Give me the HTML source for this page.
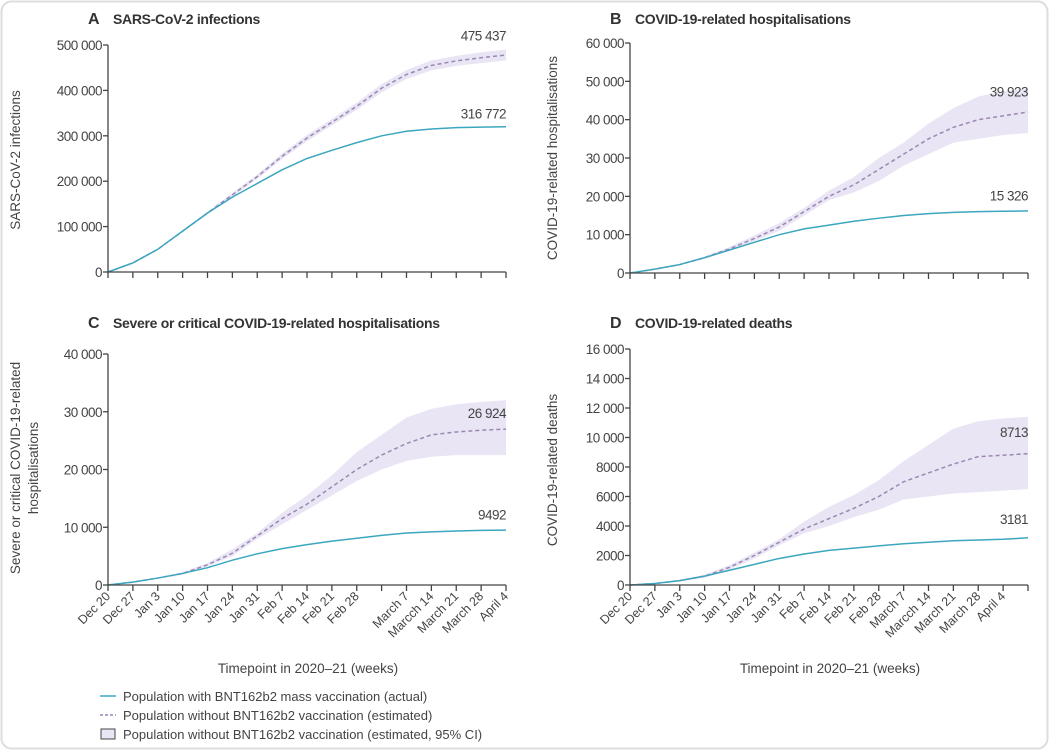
<!DOCTYPE html>
<html><head><meta charset="utf-8"><style>
html,body{margin:0;padding:0;background:#fff;}
svg{display:block;font-family:"Liberation Sans",sans-serif;}
</style></head><body>
<svg id="s" width="1050" height="752" xmlns="http://www.w3.org/2000/svg">
<rect x="1.5" y="1.5" width="1046" height="747" rx="10" fill="#fff" stroke="#ddd" stroke-width="2"/>
</svg>
<script>
var S=document.getElementById('s'),NS='http://www.w3.org/2000/svg';
function el(t,a,txt){var e=document.createElementNS(NS,t);for(var k in a)e.setAttribute(k,a[k]);if(txt!=null)e.textContent=txt;S.appendChild(e);return e;}
var labels=["Dec 20","Dec 27","Jan 3","Jan 10","Jan 17","Jan 24","Jan 31","Feb 7","Feb 14","Feb 21","Feb 28","March 7","Marcch 14","March 21","March 28","April 4"];
function panel(p){
 var x0=p.x0,x1=p.x0+398,dx=398/16;
 function X(i){return x0+i*dx;}
 function Y(v){return p.y0-v/p.max*(p.y0-p.ytop);}
 el('text',{x:p.x0-20,y:p.ty,'font-size':16,'font-weight':'bold',fill:'#333'},p.letter);
 el('text',{x:p.x0+5,y:p.ty,'font-size':14,'font-weight':'bold',fill:'#333','letter-spacing':'-0.3'},p.title);
 var d='';for(var i=0;i<=16;i++)d+=(i?'L':'M')+X(i)+','+Y(p.up[i]);
 for(var i=16;i>=0;i--)d+='L'+X(i)+','+Y(p.lo[i]);
 el('path',{d:d+'Z',fill:'#e9e5f4',stroke:'none'});
 var a='',c='';for(var i=0;i<=16;i++){a+=(i?'L':'M')+X(i)+','+Y(p.act[i]);c+=(i?'L':'M')+X(i)+','+Y(p.cf[i]);}
 el('path',{d:c,fill:'none',stroke:'#9b87b3','stroke-width':1.5,'stroke-dasharray':'4,3'});
 el('path',{d:a,fill:'none',stroke:'#3ba7bf','stroke-width':1.5});
 el('line',{x1:x0,y1:p.ytop,x2:x0,y2:p.y0,stroke:'#444','stroke-width':1.3});
 el('line',{x1:x0,y1:p.y0,x2:x1,y2:p.y0,stroke:'#444','stroke-width':1.3});
 for(var i=0;i<=16;i++)el('line',{x1:X(i),y1:p.y0,x2:X(i),y2:p.y0+6,stroke:'#444','stroke-width':1.3});
 p.yt.forEach(function(t){var y=Y(t[0]);el('line',{x1:x0-5,y1:y,x2:x0,y2:y,stroke:'#444','stroke-width':1.3});
  el('text',{x:x0-6,y:y+5,'font-size':13.5,fill:'#444','text-anchor':'end','letter-spacing':'-0.5'},t[1]);});
 if(p.xl){p.xpos.forEach(function(ti,k){var x=X(ti)+3,y=p.y0+12;
  el('text',{x:x,y:y,'font-size':12.5,fill:'#444','text-anchor':'end',transform:'rotate(-45 '+x+' '+y+')'},labels[k]);});
  el('text',{x:x0+200,y:p.y0+88,'font-size':13.5,fill:'#444','text-anchor':'middle'},'Timepoint in 2020–21 (weeks)');}
 p.yl.forEach(function(t,k){var x=p.ylx+k*18,y=p.yly;
  el('text',{x:x,y:y,'font-size':13.5,fill:'#444','text-anchor':'middle',transform:'rotate(-90 '+x+' '+y+')'},t);});
 el('text',{x:x1,y:Y(p.cfLab)-8,'font-size':13.5,fill:'#444','text-anchor':'end','letter-spacing':'-0.5'},p.cfTxt);
 el('text',{x:x1,y:Y(p.actLab)-8,'font-size':13.5,fill:'#444','text-anchor':'end','letter-spacing':'-0.5'},p.actTxt);
}
function band(cf,sp){return [cf.map(function(v,i){return v+sp[i]}),cf.map(function(v,i){return v-sp[i]})];}
var cfA=[0,20,50,90,130,170,210,255,295,330,365,405,435,455,465,472,478];
var spA=[0,0,1,2,3,4,5,6,7,7,8,9,10,11,11,12,12];
var bA=band(cfA,spA);
panel({x0:108,y0:272,ytop:45,max:500,letter:'A',title:'SARS-CoV-2 infections',ty:24,
 act:[0,20,50,90,130,165,195,225,250,268,285,300,310,315,318,319,320],cf:cfA,up:bA[0],lo:bA[1],
 yt:[[0,'0'],[100,'100 000'],[200,'200 000'],[300,'300 000'],[400,'400 000'],[500,'500 000']],
 yl:['SARS-CoV-2 infections'],ylx:20,yly:160,cfLab:492,cfTxt:'475 437',actLab:320,actTxt:'316 772'});
panel({x0:630,y0:273,ytop:43,max:60,letter:'B',title:'COVID-19-related hospitalisations',ty:24,
 act:[0,1,2.2,4,6,8,10,11.5,12.5,13.5,14.3,15,15.5,15.8,16,16.1,16.2],
 cf:[0,1,2.2,4,6.3,9,12,16,20,23,27,31,35,38,40,41,42],
 up:[0,1.1,2.4,4.3,6.8,9.8,13,17,21.5,25,30,34,39,43,46,47.5,48],
 lo:[0,0.9,2,3.7,5.8,8.3,11,15,19,21,24,28,31,34,35,36,36.5],
 yt:[[0,'0'],[10,'10 000'],[20,'20 000'],[30,'30 000'],[40,'40 000'],[50,'50 000'],[60,'60 000']],
 yl:['COVID-19-related hospitalisations'],ylx:557,yly:158,cfLab:44,cfTxt:'39 923',actLab:16.8,actTxt:'15 326'});
panel({x0:108,y0:585,ytop:354,max:40,letter:'C',title:'Severe or critical COVID-19-related hospitalisations',ty:328,
 act:[0,0.5,1.2,2,3,4.3,5.4,6.3,7,7.6,8.1,8.6,9,9.2,9.35,9.45,9.5],
 cf:[0,0.5,1.2,2,3.5,5.5,8.5,11.5,14,17,20,22.5,24.5,26,26.5,26.8,27],
 up:[0,0.55,1.3,2.2,3.8,6.2,9,12.5,15.5,19,23,26,29,30.5,31.3,31.7,32],
 lo:[0,0.45,1.1,1.8,3.2,5,8,10.5,13,15.5,18,20,21.5,22.2,22.5,22.5,22.5],
 yt:[[0,'0'],[10,'10 000'],[20,'20 000'],[30,'30 000'],[40,'40 000']],
 yl:['Severe or critical COVID-19-related','hospitalisations'],ylx:20,yly:468,cfLab:27.5,cfTxt:'26 924',actLab:10,actTxt:'9492',
 xl:1,xpos:[0,1,2,3,4,5,6,7,8,9,10,12,13,14,15,16]});
panel({x0:630,y0:585,ytop:349,max:16,letter:'D',title:'COVID-19-related deaths',ty:328,
 act:[0,0.1,0.3,0.6,1.0,1.4,1.8,2.1,2.35,2.5,2.65,2.8,2.9,3.0,3.05,3.1,3.2],
 cf:[0,0.1,0.3,0.6,1.2,2.0,2.9,3.8,4.5,5.2,6.0,7.0,7.6,8.2,8.7,8.8,8.9],
 up:[0,0.12,0.35,0.7,1.35,2.2,3.1,4.3,5.3,6.1,7.1,8.4,9.5,10.6,11.1,11.3,11.4],
 lo:[0,0.08,0.25,0.5,1.05,1.8,2.7,3.5,4.0,4.6,5.1,5.8,6.0,6.2,6.3,6.4,6.5],
 yt:[[0,'0'],[2,'2000'],[4,'4000'],[6,'6000'],[8,'8000'],[10,'10 000'],[12,'12 000'],[14,'14 000'],[16,'16 000']],
 yl:['COVID-19-related deaths'],ylx:557,yly:470,cfLab:9.5,cfTxt:'8713',actLab:3.6,actTxt:'3181',
 xl:1,xpos:[0,1,2,3,4,5,6,7,8,9,10,11,12,13,14,15]});
el('line',{x1:100,y1:696,x2:116,y2:696,stroke:'#3ba7bf','stroke-width':1.5});
el('text',{x:123,y:701,'font-size':13,fill:'#444'},'Population with BNT162b2 mass vaccination (actual)');
el('line',{x1:100,y1:715,x2:116,y2:715,stroke:'#9b87b3','stroke-width':1.5,'stroke-dasharray':'3,2'});
el('text',{x:123,y:720,'font-size':13,fill:'#444'},'Population without BNT162b2 vaccination (estimated)');
el('rect',{x:101,y:729,width:14,height:10,fill:'#e9e5f4',stroke:'#444','stroke-width':1});
el('text',{x:123,y:739,'font-size':13,fill:'#444'},'Population without BNT162b2 vaccination (estimated, 95% CI)');
</script>
</body></html>
